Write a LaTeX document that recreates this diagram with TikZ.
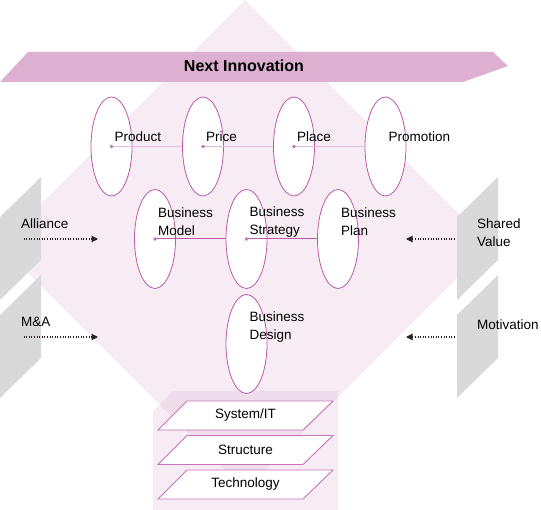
\documentclass[tikz,border=0pt]{standalone}
\usepackage{fontspec}
\setmainfont{Liberation Sans}
\usetikzlibrary{shapes.geometric,arrows.meta}
\definecolor{diamondpink}{RGB}{247,236,244}
\definecolor{bannerpink}{RGB}{221,176,210}
\definecolor{ringpink}{RGB}{188,88,168}
\definecolor{lightlink}{RGB}{228,190,220}
\definecolor{panelgrey}{RGB}{217,217,217}
\definecolor{arrowdark}{RGB}{45,35,35}
\definecolor{layerpink}{RGB}{200,115,185}

\tikzset{
  bubble/.style={ellipse,draw=ringpink,line width=0.8pt,fill=white,
    minimum width=41pt,minimum height=99pt,inner sep=0pt},
  lbl/.style={anchor=west,align=left,inner sep=0pt,
    font=\fontsize{13.5}{18}\selectfont},
  toplink/.style={lightlink,line width=1.2pt},
  lowlink/.style={ringpink,line width=1pt},
  dotarrow/.style={arrowdark,line width=1.1pt,dash pattern=on 1pt off 1.6pt,
    -{Triangle[length=6.5pt,width=6.5pt]}},
  layerbox/.style={draw=layerpink,line width=0.9pt,fill=white},
}

\begin{document}
\begin{tikzpicture}[x=1pt,y=-1pt]
  \useasboundingbox (0,0) rectangle (541,510);
  % background diamond and base box
  \fill[diamondpink] (245,0) -- (490,245) -- (245,490) -- (0,245) -- cycle;
  \fill[bannerpink,fill opacity=0.24] (153,411) -- (173,391) -- (338,391)
    -- (338,510) -- (153,510) -- cycle;
  % grey side panels
  \foreach \px in {0,457} {
    \foreach \dy in {0,98} {
      \fill[panelgrey] (\px,217+\dy) -- (\px+41,177+\dy) -- (\px+41,260+\dy)
        -- (\px,300+\dy) -- cycle;
    }
  }
  % banner
  \fill[bannerpink] (0,82) -- (28,52) -- (493,52) -- (508,66) -- (463,82) -- cycle;
  \node[font=\bfseries\fontsize{16}{19}\selectfont] (banner) at (244,66) {Next Innovation};
  % ellipses
  \foreach \n/\x in {product/111.5,price/203,place/294,promo/385.5} {
    \node[bubble] (\n) at (\x,146.5) {};
  }
  \foreach \n/\x in {model/155,strategy/246.5,plan/338} {
    \node[bubble] (\n) at (\x,239) {};
  }
  \node[bubble] (design) at (246.5,344) {};
  % links
  \draw[toplink] (product.center) -- (price.west);
  \draw[toplink] (price.center) -- (place.west);
  \draw[toplink] (place.center) -- (promo.west);
  \draw[lowlink] (model.center) -- (strategy.west);
  \draw[lowlink] (strategy.center) -- (plan.west);
  \foreach \n in {product,price,place,model,strategy} {
    \fill[ringpink!85] (\n.center) circle (1.8pt);
  }
  % labels
  \foreach \n/\t in {product/Product,price/Price,place/Place,promo/Promotion} {
    \node[lbl] (\n-txt) at ([xshift=3pt,yshift=10pt]\n.center) {\t};
  }
  \foreach \n/\t in {model/Model,strategy/Strategy,plan/Plan,design/Design} {
    \node[lbl] (\n-txt) at ([xshift=3pt,yshift=17pt]\n.center) {Business\\\t};
  }
  \node[lbl] (alliance) at (21,224) {Alliance};
  \node[lbl] (manda) at (21,322) {M\&A};
  \node[lbl] (shared) at (477,233) {Shared\\Value};
  \node[lbl] (motiv) at (477,325) {Motivation};
  % dotted arrows
  \coordinate (allianceS) at (23.5,239);
  \coordinate (allianceE) at (98,239);
  \coordinate (mandaS) at (23.5,337);
  \coordinate (mandaE) at (98,337);
  \coordinate (sharedS) at (455,239);
  \coordinate (sharedE) at (406,239);
  \coordinate (motivS) at (455,337);
  \coordinate (motivE) at (406,337);
  \foreach \a in {alliance,manda,shared,motiv} {
    \draw[dotarrow] (\a S) -- (\a E);
  }
  % layers
  \foreach \t [count=\i from 0] in {{System/IT},Structure,Technology} {
    \pgfmathsetmacro{\yt}{401+34.5*\i}
    \draw[layerbox] (158,\yt+29) -- (303,\yt+29) -- (333,\yt) -- (187,\yt) -- cycle;
    \node[font=\fontsize{13.5}{16}\selectfont] (layer\i) at (245.5,\yt+14.5) {\t};
  }
\end{tikzpicture}
\end{document}
